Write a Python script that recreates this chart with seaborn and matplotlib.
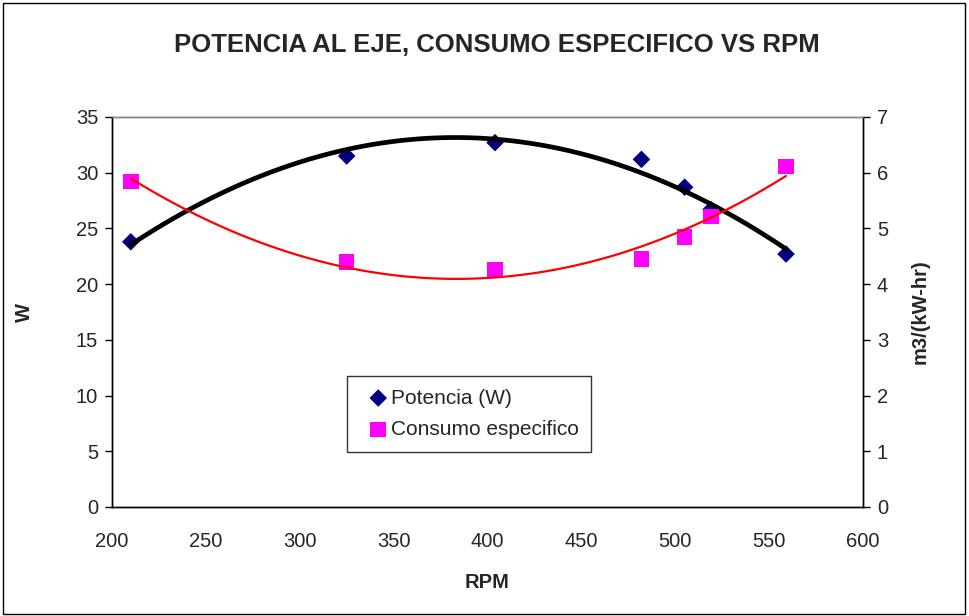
import numpy as np
import pandas as pd
import matplotlib
matplotlib.use("Agg")
import matplotlib.pyplot as plt
from matplotlib.patches import Rectangle
import seaborn as sns

sns.set_style("white")
plt.rcParams["font.family"] = ["Liberation Sans", "DejaVu Sans"]

# Measured data
rpm = [210, 325, 404, 482, 505, 519, 559]
potencia_w = [23.8, 31.5, 32.7, 31.2, 28.7, 26.7, 22.7]
consumo = [5.84, 4.40, 4.25, 4.45, 4.85, 5.21, 6.11]

df = pd.DataFrame({"RPM": rpm, "Potencia": potencia_w, "Consumo": consumo})

# Second-order polynomial trend lines over the measured range
xs = np.linspace(min(rpm), max(rpm), 200)
trend_p = pd.DataFrame({"RPM": xs, "y": np.polyval(np.polyfit(rpm, potencia_w, 2), xs)})
trend_c = pd.DataFrame({"RPM": xs, "y": np.polyval(np.polyfit(rpm, consumo, 2), xs)})

fig = plt.figure(figsize=(9.69, 6.16), dpi=100)
ax = fig.add_axes([112 / 969, 1 - 507 / 616, 751 / 969, 390 / 616])
ax2 = ax.twinx()

sns.lineplot(data=trend_p, x="RPM", y="y", ax=ax, color="black", linewidth=3.4, zorder=3)
sns.scatterplot(data=df, x="RPM", y="Potencia", ax=ax, marker="D", s=80,
                color="#000080", edgecolor="none", zorder=2, label="Potencia (W)")

sns.lineplot(data=trend_c, x="RPM", y="y", ax=ax2, color="#FF0000", linewidth=1.6, zorder=3)
sns.scatterplot(data=df, x="RPM", y="Consumo", ax=ax2, marker="s", s=125,
                color="#FF00FF", edgecolor="none", zorder=2, label="Consumo especifico")

ax.set_xlim(200, 600)
ax.set_ylim(0, 35)
ax2.set_ylim(0, 7)
ax.set_xticks(range(200, 601, 50))
ax.set_yticks(range(0, 36, 5))
ax2.set_yticks(range(0, 8))

for a in (ax, ax2):
    a.tick_params(axis="both", labelsize=14.5, length=5, width=1, color="black",
                  direction="out", pad=5)
    for s in a.spines.values():
        s.set_color("black")
        s.set_linewidth(1)
ax.spines["top"].set_color("#808080")
ax2.spines["top"].set_color("#808080")
ax.tick_params(axis="x", pad=13)

ax.set_xlabel("RPM", fontsize=14.5, fontweight="bold", labelpad=16)
ax.set_ylabel("W", fontsize=14.5, fontweight="bold", labelpad=30)
ax2.set_ylabel("m3/(kW-hr)", fontsize=14.5, fontweight="bold", labelpad=16)

fig.suptitle("POTENCIA AL EJE, CONSUMO ESPECIFICO VS RPM", x=497 / 969, y=1 - 45 / 616,
             va="center", fontsize=18.5, fontweight="bold")

# Combined legend
h1, l1 = ax.get_legend_handles_labels()
h2, l2 = ax2.get_legend_handles_labels()
if ax.get_legend():
    ax.get_legend().remove()
if ax2.get_legend():
    ax2.get_legend().remove()
leg = ax2.legend(h1 + h2, l1 + l2, loc="upper left",
                 bbox_to_anchor=((347 - 112) / 751, (507 - 376) / 390),
                 borderaxespad=0, fontsize=15, frameon=True, fancybox=False,
                 edgecolor="black", handletextpad=-0.3, handlelength=1.8,
                 borderpad=0.6, labelspacing=0.6, markerscale=1.0)
leg.get_frame().set_linewidth(1)
leg.set_zorder(10)

# Chart frame
fig.patches.append(Rectangle((3 / 969, 2 / 616), 962 / 969, 611 / 616, transform=fig.transFigure,
                             fill=False, edgecolor="black", linewidth=1))

fig.savefig("out.png", dpi=100)
